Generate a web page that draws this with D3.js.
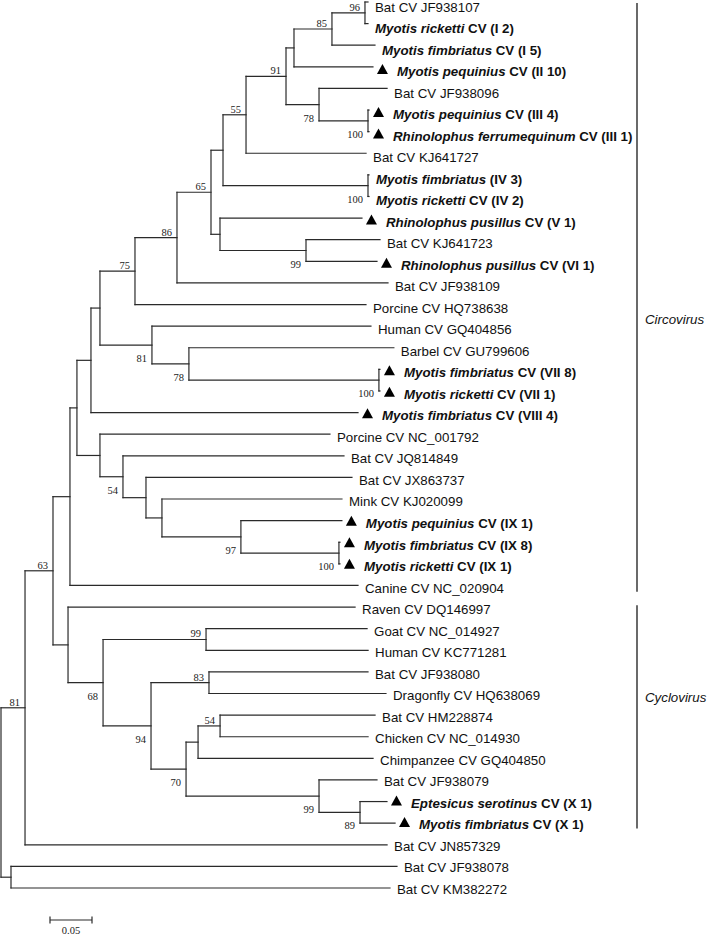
<!DOCTYPE html>
<html>
<head>
<meta charset="utf-8">
<script src="https://cdn.jsdelivr.net/npm/d3@7"></script>
<style>
  html, body { margin: 0; padding: 0; background: #fff; }
  svg { display: block; }
</style>
</head>
<body>
<svg id="chart" width="709" height="935"></svg>
<script>
// ---------------- DATA ----------------
// Tree topology with branch lengths (substitutions/site) and bootstrap support
const treeNewick = `
(
 (
  (
   (
    (
     (
      (
       (
        (
         (
          (
           (
            (
             (
              (
               ('Bat CV JF938107':0.0036,'Myotis ricketti CV (I 2)':0.0036)96:0.0393,
               'Myotis fimbriatus CV (I 5)':0.0512
              )85:0.0452,
              'Myotis pequinius CV (II 10)':0.0940
             ):0.0095,
             (
              'Bat CV JF938096':0.0810,
              ('Myotis pequinius CV (III 4)':0.0012,'Rhinolophus ferrumequinum CV (III 1)':0.0012)100:0.0583
             )78:0.0393
            )91:0.0476,
            'Bat CV KJ641727':0.1429
           )55:0.0274,
           ('Myotis fimbriatus (IV 3)':0.0012,'Myotis ricketti CV (IV 2)':0.0012)100:0.1726
          ):0.0143,
          (
           'Rhinolophus pusillus CV (V 1)':0.1690,
           ('Bat CV KJ641723':0.0881,'Rhinolophus pusillus CV (VI 1)':0.0845)99:0.1024
          ):0.0107
         )65:0.0405,
         'Bat CV JF938109':0.2512
        )86:0.0500,
        'Porcine CV HQ738638':0.2750
       )75:0.0417,
       (
        'Human CV GQ404856':0.2607,
        (
         'Barbel CV GU799606':0.2440,
         ('Myotis fimbriatus CV (VII 8)':0.0012,'Myotis ricketti CV (VII 1)':0.0012)100:0.2262
        )78:0.0440
       )81:0.0619
      ):0.0107,
      'Myotis fimbriatus CV (VIII 4)':0.3179
     ):0.0167,
     (
      'Porcine CV NC_001792':0.2738,
      (
       'Bat CV JQ814849':0.2631,
       (
        'Bat CV JX863737':0.2452,
        (
         'Mink CV KJ020099':0.2143,
         (
          'Myotis pequinius CV (IX 1)':0.1202,
          ('Myotis fimbriatus CV (IX 8)':0.0012,'Myotis ricketti CV (IX 1)':0.0012)100:0.1167
         )97:0.0940
        ):0.0190
       ):0.0274
      )54:0.0274
     ):0.0274
    ):0.0083,
    'Canine CV NC_020904':0.3429
   ):0.0202,
   (
    'Raven CV DQ146997':0.3417,
    (
     ('Goat CV NC_014927':0.1917,'Human CV KC771281':0.1929)99:0.1226,
     (
      ('Bat CV JF938080':0.1893,'Dragonfly CV HQ638069':0.2107)83:0.0690,
      (
       (
        ('Bat CV HM228874':0.1845,'Chicken CV NC_014930':0.1762)54:0.0262,
        'Chimpanzee CV GQ404850':0.2083
       ):0.0143,
       (
        'Bat CV JF938079':0.0690,
        ('Eptesicus serotinus CV (X 1)':0.0321,'Myotis fimbriatus CV (X 1)':0.0417)89:0.0488
       )99:0.1583
      )70:0.0417
     )94:0.0571
    )68:0.0417
   ):0.0179
  )63:0.0333,
  'Bat CV JN857329':0.4310
 )81:0.0286,
 ('Bat CV JF938078':0.4595,'Bat CV KM382272':0.4512):0.0119
);`;

// Leaves marked with a filled triangle (sequences from this study)
const markedLeaves = [
  "Myotis pequinius CV (II 10)",
  "Myotis pequinius CV (III 4)",
  "Rhinolophus ferrumequinum CV (III 1)",
  "Rhinolophus pusillus CV (V 1)",
  "Rhinolophus pusillus CV (VI 1)",
  "Myotis fimbriatus CV (VII 8)",
  "Myotis ricketti CV (VII 1)",
  "Myotis fimbriatus CV (VIII 4)",
  "Myotis pequinius CV (IX 1)",
  "Myotis fimbriatus CV (IX 8)",
  "Myotis ricketti CV (IX 1)",
  "Eptesicus serotinus CV (X 1)",
  "Myotis fimbriatus CV (X 1)"
];

// Host genera: labels starting with these are bold, binomial in italics
const hostGenera = ["Myotis", "Rhinolophus", "Eptesicus"];

// Clades (genus brackets)
const cladeNames = ["Circovirus", "Cyclovirus"];
const cladeFirstLeaf = ["Bat CV JF938107", "Raven CV DQ146997"];
const cladeLastLeaf = ["Canine CV NC_020904", "Myotis fimbriatus CV (X 1)"];

// Scale bar
const scaleBarValue = 0.05;
const scaleBarLabel = "0.05";

// ---------------- PARSER ----------------
function parseNewick(s) {
  let i = 0;
  function skip() { while (i < s.length && /\s/.test(s[i])) i++; }
  function node() {
    skip();
    const n = {};
    if (s[i] === "(") {
      i++;
      n.children = [];
      while (true) {
        n.children.push(node());
        skip();
        if (s[i] === ",") { i++; continue; }
        break;
      }
      skip();
      i++; // ')'
    }
    skip();
    if (s[i] === "'") {
      i++;
      const j = s.indexOf("'", i);
      n.name = s.slice(i, j);
      i = j + 1;
    } else {
      const m = /^[^:,();\s]*/.exec(s.slice(i))[0];
      if (m) n.support = m;
      i += m.length;
    }
    skip();
    if (s[i] === ":") {
      i++;
      const m = /^[0-9.eE+-]+/.exec(s.slice(i))[0];
      n.length = +m;
      i += m.length;
    } else n.length = 0;
    return n;
  }
  return node();
}

// ---------------- LAYOUT ----------------
const tree = parseNewick(treeNewick);
const root = d3.hierarchy(tree, d => d.children);
root.eachBefore(d => { d.dist = d.parent ? d.parent.dist + d.data.length : 0; });
const leaves = root.leaves();
leaves.forEach((d, i) => d.idx = i);
const nLeaves = leaves.length;

const x = d3.scaleLinear().domain([0, 0.05]).range([1, 43]);
const yLine = d3.scaleLinear().domain([0, nLeaves - 1]).range([2, 888]);
const yText = d3.scaleLinear().domain([0, nLeaves - 1]).range([7, 889]);

root.eachAfter(d => {
  if (d.children) d.ypos = (d.children[0].ypos + d.children[d.children.length - 1].ypos) / 2;
  else d.ypos = yLine(d.idx);
});

const svg = d3.select("#chart");
const lineColor = "#2a2a2a";
const sans = "'Liberation Sans', Arial, sans-serif";
const serif = "'Liberation Serif', 'Times New Roman', serif";

const gLinks = svg.append("g")
  .attr("stroke", lineColor)
  .attr("stroke-width", 1.2)
  .attr("stroke-linecap", "square")
  .attr("fill", "none");

// horizontal branches
root.descendants().filter(d => d.parent).forEach(d => {
  gLinks.append("line")
    .attr("x1", x(d.parent.dist)).attr("x2", x(d.dist))
    .attr("y1", d.ypos).attr("y2", d.ypos);
});
// vertical connectors
root.descendants().filter(d => d.children).forEach(d => {
  const c = d.children;
  gLinks.append("line")
    .attr("x1", x(d.dist)).attr("x2", x(d.dist))
    .attr("y1", c[0].ypos).attr("y2", c[c.length - 1].ypos);
});

// bootstrap support
const gSup = svg.append("g")
  .attr("font-family", serif)
  .attr("font-size", "10.5px")
  .attr("fill", "#222")
  .attr("text-anchor", "end");
root.descendants().filter(d => d.parent && d.children && d.data.support).forEach(d => {
  const first = d.parent.children[0] === d;
  gSup.append("text")
    .attr("x", x(d.dist) - 5)
    .attr("y", first ? d.ypos - 2 : d.ypos + 17)
    .text(d.data.support);
});

// leaf labels
const gLab = svg.append("g")
  .attr("font-family", sans)
  .attr("font-size", "13.3px")
  .attr("fill", "#111");
leaves.forEach(d => {
  const name = d.data.name;
  const endX = x(d.dist);
  const ty = yText(d.idx);
  const marked = markedLeaves.includes(name);
  let tx = endX + 7;
  if (marked) {
    const x0 = endX + 4;
    gLab.append("path")
      .attr("d", `M${x0},${ty + 2.5}L${x0 + 11},${ty + 2.5}L${x0 + 5.5},${ty - 7.5}Z`)
      .attr("fill", "#000");
    tx = endX + 24;
  }
  const t = gLab.append("text")
    .attr("x", tx)
    .attr("y", ty + 4.7)
    .style("white-space", "pre");
  const parts = name.split(" ");
  if (hostGenera.includes(parts[0])) {
    t.append("tspan").attr("font-weight", "bold").attr("font-style", "italic")
      .text(parts.slice(0, 2).join(" "));
    t.append("tspan").attr("font-weight", "bold")
      .text(" " + parts.slice(2).join(" "));
  } else {
    t.text(name);
  }
});

// clade brackets
const cladeX = 637;
const cladeLabelRow = [14.5, 32.1];
const gClade = svg.append("g");
cladeNames.forEach((c, k) => {
  const a = leaves.find(l => l.data.name === cladeFirstLeaf[k]).idx;
  const b = leaves.find(l => l.data.name === cladeLastLeaf[k]).idx;
  gClade.append("line")
    .attr("x1", cladeX).attr("x2", cladeX)
    .attr("y1", Math.max(3, yText(a) - 4)).attr("y2", yText(b) + 4)
    .attr("stroke", "#444").attr("stroke-width", 1.6);
  gClade.append("text")
    .attr("x", cladeX + 8)
    .attr("y", yText(cladeLabelRow[k]) + 4.7)
    .attr("font-family", sans)
    .attr("font-size", "13.3px")
    .attr("font-style", "italic")
    .attr("fill", "#111")
    .text(c);
});

// scale bar
const sbX = 50, sbY = 920;
const sbW = x(scaleBarValue) - x(0);
const gSb = svg.append("g").attr("stroke", lineColor).attr("stroke-width", 1.2);
gSb.append("line").attr("x1", sbX).attr("x2", sbX + sbW).attr("y1", sbY).attr("y2", sbY);
gSb.append("line").attr("x1", sbX).attr("x2", sbX).attr("y1", sbY - 3.5).attr("y2", sbY + 3.5);
gSb.append("line").attr("x1", sbX + sbW).attr("x2", sbX + sbW).attr("y1", sbY - 3.5).attr("y2", sbY + 3.5);
svg.append("text")
  .attr("x", sbX + sbW / 2).attr("y", sbY + 14)
  .attr("text-anchor", "middle")
  .attr("font-family", serif).attr("font-size", "10.5px").attr("fill", "#222")
  .text(scaleBarLabel);
</script>
</body>
</html>
